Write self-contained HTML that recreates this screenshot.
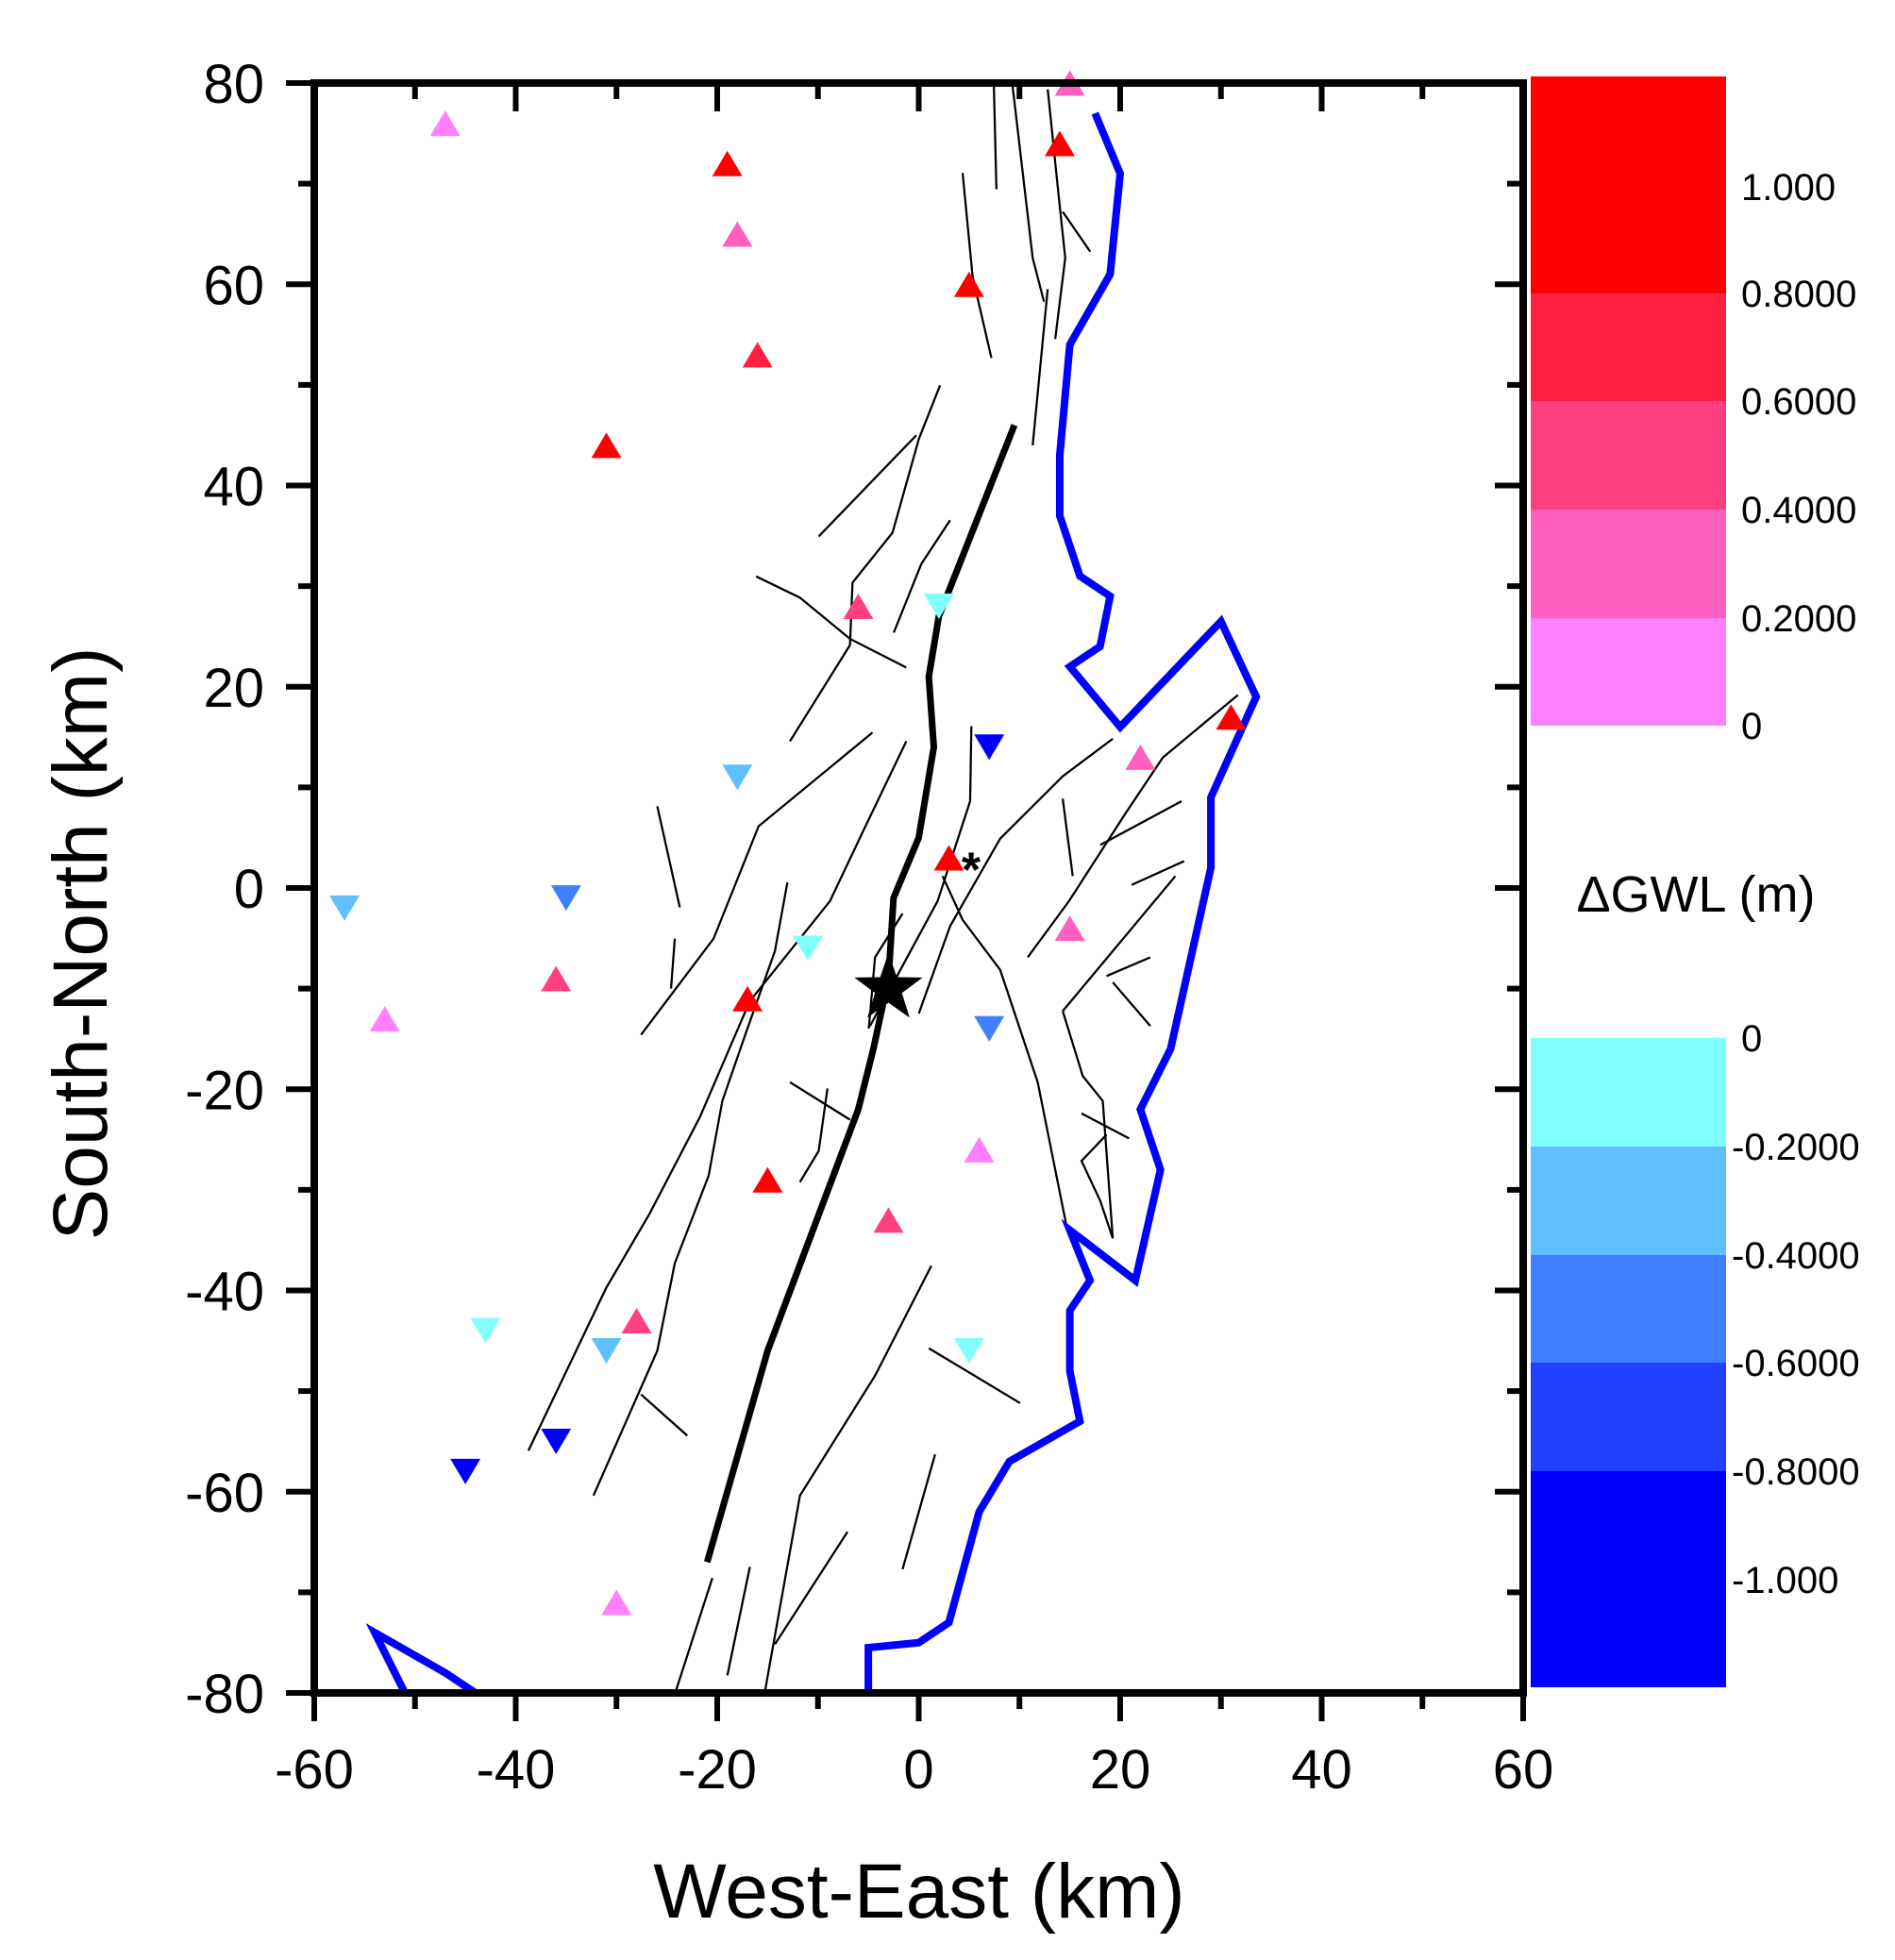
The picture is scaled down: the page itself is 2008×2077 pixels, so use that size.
<!DOCTYPE html>
<html><head><meta charset="utf-8"><style>
html,body{margin:0;padding:0;background:#fff;}
svg{display:block;font-family:"Liberation Sans",Arial,sans-serif;}
</style></head><body>
<svg id="chart" width="2008" height="2077" viewBox="0 0 2008 2077" xmlns="http://www.w3.org/2000/svg">
<g id="faults-thin" transform="translate(-1,2) scale(1.326,1.3235)" fill="none" stroke="#000" stroke-width="1.7"></g>
<g id="marks"></g>
<g id="axes"></g>
<g id="cbar"></g>
<text x="974" y="2032" font-size="82" text-anchor="middle">West-East (km)</text>
<text transform="translate(113,1000) rotate(-90)" font-size="82" text-anchor="middle">South-North (km)</text>
<text x="1797" y="966" font-size="54" text-anchor="middle">ΔGWL (m)</text>
</svg>
<script>
// ---- data ----
const upX = [-47,-19,-18,15,14,5,-16,-31,-6,31,22,3,-36,-53,15,-17,-15,6,-3,-28,-30];
const upY = [76,72,65,80,74,60,53,44,28,17,13,3,-9,-13,-4,-11,-29,-26,-33,-43,-71];
const upV = [0.1,1.0,0.3,0.3,1.0,1.0,0.7,1.0,0.5,1.0,0.3,1.0,0.5,0.1,0.3,1.0,1.0,0.1,0.5,0.5,0.1];
const dnX = [2,-18,7,-57,-35,-11,7,-43,-31,5,-36,-45];
const dnY = [28,11,14,-2,-1,-6,-14,-44,-46,-46,-55,-58];
const dnV = [-0.1,-0.3,-1.0,-0.3,-0.5,-0.1,-0.5,-0.1,-0.3,-0.1,-1.0,-1.0];
const mainFaultX = [9.5,2,1,1.5,0,-2.5,-3,-4.5,-6,-9,-15,-21];
const mainFaultY = [46,27,21,14,5,-1,-9,-16,-22,-30,-46,-67];
const coastX = [17.5,20,19,15,14,14,16,19,18,15,20,30,33.5,29,29,27,25,22,24,21.5,15,17,15,15,16,9,6,3,0,-5,-5];
const coastY = [77,71,61,54,43,37,31,29,24,22,16,26.5,19,9,2,-7,-16,-22,-28,-39,-34,-39,-42,-48,-53,-57,-62,-73,-75,-75.5,-80];
const coast2X = [-51,-54,-47,-44];
const coast2Y = [-80,-74,-78,-80];
const xTicks = [-60,-40,-20,0,20,40,60];
const yTicks = [80,60,40,20,0,-20,-40,-60,-80];
const posLabels = ['1.000','0.8000','0.6000','0.4000','0.2000','0'];
const negLabels = ['0','-0.2000','-0.4000','-0.6000','-0.8000','-1.000'];
const posColors = ['#ff0000','#ff2040','#ff4080','#ff60c0','#ff80ff'];
const negColors = ['#80ffff','#60c0ff','#4080ff','#2040ff','#0000ff'];

const NS='http://www.w3.org/2000/svg';
const L=333,R=1614,T=88,B=1794;
const X=v=>L+(v+60)*(R-L)/120;
const Y=v=>T+(80-v)*(B-T)/160;
function mk(tag,attrs,parent){const e=document.createElementNS(NS,tag);for(const k in attrs)e.setAttribute(k,attrs[k]);parent.appendChild(e);return e;}
const marks=document.getElementById('marks'),axes=document.getElementById('axes'),cbar=document.getElementById('cbar');

// thin faults (traced geometry, display px)
const thin=[
[[795,68],[797,150]],[[810,68],[826,205],[835,240]],[[838,70],[846,148],[852,205],[844,270]],
[[770,137],[778,220],[793,285]],[[850,168],[872,200]],[[826,355],[838,230]],
[[752,307],[735,350],[714,425],[682,465],[680,515],[632,592]],[[733,347],[655,428]],
[[715,505],[737,450],[760,415]],[[605,460],[640,477],[680,510],[725,533]],
[[698,585],[607,660],[571,750],[513,827]],[[526,644],[544,725]],[[540,750],[537,790]],
[[725,592],[690,665],[664,720],[600,800],[560,893],[520,970],[485,1030],[423,1160]],
[[630,705],[620,760],[597,825],[578,880],[567,940],[540,1010],[526,1080],[475,1196]],
[[777,580],[776,640],[750,720],[696,820]],
[[890,590],[850,620],[800,670],[760,740],[735,810]],
[[754,700],[770,735],[800,775],[830,865],[853,980]],
[[990,555],[930,605],[900,650],[855,720],[822,765]],[[945,640],[880,675]],[[947,688],[905,707]],
[[940,700],[850,808]],[[850,638],[858,700]],[[920,765],[885,780]],[[890,785],[920,820]],
[[850,808],[866,860],[882,880],[890,990]],[[865,890],[903,910]],[[885,907],[865,928],[880,960],[890,990]],
[[632,865],[680,895]],[[662,870],[655,920],[640,945]],
[[745,1012],[700,1100],[640,1196],[612,1353]],[[743,1078],[816,1122]],[[748,1163],[722,1255]],
[[678,1225],[620,1315]],[[600,1253],[582,1340]],[[570,1262],[540,1355]],[[513,1115],[550,1148]],
[[722,730],[700,765],[695,822]]];
const tg=document.getElementById('faults-thin');
thin.forEach(s=>{const p=mk('polyline',{points:s.map(q=>q.join(',')).join(' ')},tg);

});

function poly(xs,ys,attrs,name){const p=mk('polyline',Object.assign({points:xs.map((x,i)=>X(x)+','+Y(ys[i])).join(' '),fill:'none'},attrs),marks);

}
poly(coastX,coastY,{stroke:'#0000ff','stroke-width':8,'stroke-linejoin':'miter'},'coastline');
poly(coast2X,coast2Y,{stroke:'#0000ff','stroke-width':8},'coastline-southwest');
poly(mainFaultX,mainFaultY,{stroke:'#000','stroke-width':7},'main-rupture-fault');

function colorFor(v){if(v>=0){const i=Math.min(4,Math.floor((1.2-v)/0.2));return posColors[Math.max(0,i-1<0?0:(v>=0.8?0:i))];}
const i=Math.min(4,Math.floor(-v/0.2));return negColors[i];}
function posColor(v){if(v>=0.8)return posColors[0];if(v>=0.6)return posColors[1];if(v>=0.4)return posColors[2];if(v>=0.2)return posColors[3];return posColors[4];}
function negColor(v){if(v<=-0.8)return negColors[4];if(v<=-0.6)return negColors[3];if(v<=-0.4)return negColors[2];if(v<=-0.2)return negColors[1];return negColors[0];}
const w=16,h=27;
upX.forEach((x,i)=>{const cx=X(x),cy=Y(upY[i]);
const t=mk('polygon',{points:`${cx},${cy-h/2} ${cx+w},${cy+h/2} ${cx-w},${cy+h/2}`,fill:posColor(upV[i])},marks);

});
dnX.forEach((x,i)=>{const cx=X(x),cy=Y(dnY[i]);
const t=mk('polygon',{points:`${cx-w},${cy-h/2} ${cx+w},${cy-h/2} ${cx},${cy+h/2}`,fill:negColor(dnV[i])},marks);

});

// epicenter star
{const cx=X(-3),cy=Y(-10),ro=38,ri=15;let pts=[];for(let k=0;k<10;k++){const r=k%2?ri:ro,a=-Math.PI/2+k*Math.PI/5;pts.push((cx+r*Math.cos(a))+','+(cy+r*Math.sin(a)));}
const s=mk('polygon',{points:pts.join(' '),fill:'#000'},marks);

}
{const a=mk('text',{x:X(5.2),y:Y(2)+20,'font-size':52,'font-weight':'bold','text-anchor':'middle'},marks);a.textContent='*';

}

// axes frame
const fr=mk('rect',{x:L,y:T,width:R-L,height:B-T,fill:'none',stroke:'#000','stroke-width':8},axes);


for(let v=-60;v<=60;v+=10){const major=v%20===0;const x=X(v);
mk('line',{x1:x,y1:B,x2:x,y2:B+(major?30:17),stroke:'#000','stroke-width':6},axes);
mk('line',{x1:x,y1:T,x2:x,y2:T+(major?30:17),stroke:'#000','stroke-width':6},axes);}
for(let v=-80;v<=80;v+=10){const major=v%20===0;const y=Y(v);
mk('line',{x1:L,y1:y,x2:L-(major?30:17),y2:y,stroke:'#000','stroke-width':6},axes);
mk('line',{x1:R,y1:y,x2:R-(major?30:17),y2:y,stroke:'#000','stroke-width':6},axes);}
xTicks.forEach(v=>{const t=mk('text',{x:X(v),y:1895,'font-size':58,'text-anchor':'middle'},axes);t.textContent=v;

});
yTicks.forEach(v=>{const t=mk('text',{x:280,y:Y(v)+21,'font-size':58,'text-anchor':'end'},axes);t.textContent=v;

});

// colorbar
const segP=[[81,311],[311,425],[425,540],[540,655],[655,769]];
segP.forEach((s,i)=>{const r=mk('rect',{x:1622,y:s[0],width:207,height:s[1]-s[0],fill:posColors[i]},cbar);

});
const segN=[[1100,1215],[1215,1330],[1330,1444],[1444,1559],[1559,1788]];
segN.forEach((s,i)=>{const r=mk('rect',{x:1622,y:s[0],width:207,height:s[1]-s[0],fill:negColors[i]},cbar);

});
const posLY=[198,311,425,540,655,769];
posLabels.forEach((s,i)=>{const t=mk('text',{x:1845,y:posLY[i]+14,'font-size':40},cbar);t.textContent=s;

});
const negLY=[1100,1215,1330,1444,1559,1674];
negLabels.forEach((s,i)=>{const t=mk('text',{x:s.startsWith('-')?1835:1845,y:negLY[i]+14,'font-size':40},cbar);t.textContent=s;

});
</script>
</body></html>
